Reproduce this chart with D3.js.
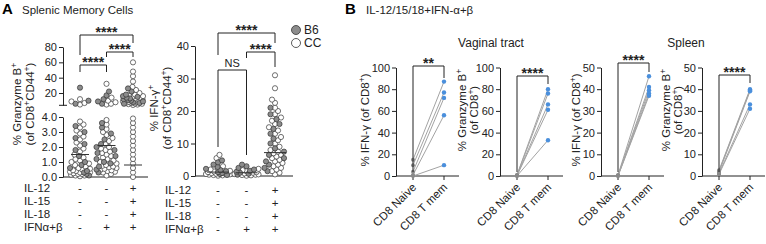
<!DOCTYPE html>
<html>
<head>
<meta charset="utf-8">
<script src="https://cdn.jsdelivr.net/npm/d3@7"></script>
<style>
  body { margin: 0; background: #fff; }
  svg { font-family: "Liberation Sans", Arial, sans-serif; }
</style>
</head>
<body>
<svg id="fig" width="766" height="244"></svg>
<script>
// ---------- Panel A data ----------
const conditions = ['unstim', 'ifn', 'combo'];
const rowLabels = ['IL-12', 'IL-15', 'IL-18', 'IFNα+β'];
const rowSigns = [['-', '-', '+'], ['-', '-', '+'], ['-', '-', '+'], ['-', '+', '+']];
const strains = ['B6', 'CC'];

// % Granzyme B+ (of CD8+CD44+)
const gzbCC = [
  [0.05, 0.1, 0.1, 0.15, 0.2, 0.2, 0.25, 0.3, 0.3, 0.35, 0.4, 0.45, 0.5, 0.55, 0.6, 0.7, 0.8, 0.9, 1.0, 1.1, 1.2, 1.3, 1.5, 1.7, 1.9, 2.1, 2.3, 2.5, 2.7, 2.9, 3.1, 3.3, 3.5, 3.7, 5, 7, 9, 12],
  [0.1, 0.2, 0.3, 0.35, 0.4, 0.45, 0.5, 0.55, 0.6, 0.65, 0.7, 0.75, 0.8, 0.9, 1.0, 1.1, 1.2, 1.3, 1.4, 1.5, 1.6, 1.7, 1.8, 1.9, 2.0, 2.2, 2.4, 2.6, 2.8, 3.0, 3.2, 3.5, 3.8, 5, 6, 8, 10, 14, 32],
  [0.0, 0.3, 0.6, 0.9, 1.2, 1.5, 1.8, 2.1, 2.4, 2.7, 3.0, 3.3, 3.6, 3.9, 4.5, 5, 5.5, 6, 6.5, 7, 7.5, 8, 8.5, 9, 9.5, 10, 10.5, 11, 11.5, 12, 13, 14, 15, 16, 17, 18, 20, 24, 28, 35, 42, 48, 60]
];
const gzbB6 = [
  [0.1, 0.2, 0.3, 0.4, 0.6, 0.8, 1.0, 1.4, 1.8, 2.2, 2.6, 3.0, 3.4, 6, 10, 27],
  [0.3, 0.5, 0.7, 0.9, 1.0, 1.2, 1.4, 1.6, 1.8, 2.0, 2.2, 2.5, 2.9, 3.3, 3.6, 6, 9, 12, 17, 22],
  [6, 7, 8, 9, 10, 11, 12, 13, 14, 15, 16, 18, 22, 26]
];
const gzbMeans = [1.5, 2.1, 0.8];
const gzbLowTicks = [0, 1, 2, 3, 4];
const gzbHighTicks = [20, 40, 60, 80];

// % IFN-γ+ (of CD8+CD44+)
const ifngCC = [
  [0.1, 0.2, 0.3, 0.4, 0.5, 0.6, 0.7, 0.8, 0.9, 1.0, 1.2, 1.4, 1.6, 2.0, 3.0, 5.5, 6.5],
  [0.1, 0.2, 0.3, 0.4, 0.5, 0.6, 0.8, 1.0, 1.2, 1.5, 1.8, 2.2],
  [0.5, 1, 1.5, 2, 2.5, 3, 3.5, 4, 4.5, 5, 5.5, 6, 6.5, 7, 7.5, 8, 9, 10, 11, 12, 13, 14, 15, 16, 17, 18, 19, 20, 21, 22.5, 23.5, 27, 31]
];
const ifngB6 = [
  [0.3, 0.6, 0.9, 1.2, 1.5, 1.8, 2.2, 2.8, 3.5, 4.2, 4.8],
  [0.4, 0.7, 1.0, 1.3, 1.6, 2.0, 2.5, 3.0, 3.5],
  [1.5, 2.5, 3.5, 4.5, 5.5, 6.5, 7.5, 8.5, 10, 11.5, 13, 14.5, 16, 17.5, 19, 21]
];
const ifngMeans = [1.2, 1.0, 7.2];
const ifngTicks = [0, 10, 20, 30, 40];

const gzbSig = [[0, 2, '****'], [1, 2, '****'], [0, 1, '****']];
const ifngSig = [[0, 2, '****'], [1, 2, '****'], [0, 1, 'NS']];

// ---------- Panel B data ----------
const bGroups = ['CD8 Naive', 'CD8 T mem'];
const vagIfngNaive = [15, 10, 4, 1, 0];
const vagIfngMem = [87, 77, 72, 56, 10];
const vagGzbNaive = [1.0, 0.8, 0.5, 0.3, 0.1];
const vagGzbMem = [80, 76, 66, 61, 33];
const splIfngNaive = [0.4, 0.3, 0.2, 0.1, 0];
const splIfngMem = [46, 41, 39.5, 38, 37];
const splGzbNaive = [2.6, 2.2, 1.8, 1.2, 0.8];
const splGzbMem = [40, 39.5, 39, 33, 31];
const bSig = ['**', '****', '****', '****'];
const tissues = ['Vaginal tract', 'Spleen'];

// ---------- helpers ----------
const svg = d3.select('#fig');
const defs = svg.append('defs');
const ink = '#222';

function rich(sel, str) {
  // "^x" marks a superscript character
  let reset = false;
  str.split(/(\^.)/).forEach(p => {
    if (!p) return;
    if (p[0] === '^') {
      sel.append('tspan').attr('dy', -4).attr('font-size', 8.5).text(p[1]);
      reset = true;
    } else {
      const t = sel.append('tspan').text(p);
      if (reset) { t.attr('dy', 4); reset = false; }
    }
  });
}

function yTitle(lines, xs, cy) {
  lines.forEach((t, i) => {
    const txt = svg.append('text')
      .attr('transform', `translate(${xs[i]},${cy}) rotate(-90)`)
      .attr('text-anchor', 'middle')
      .attr('font-size', 11.5)
      .attr('fill', ink);
    rich(txt, t);
  });
}

function styleAxis(g) {
  g.selectAll('path,line').attr('stroke', ink).attr('stroke-width', 1);
  g.selectAll('text').attr('fill', ink).attr('font-size', 11).attr('font-family', '"Liberation Sans", Arial, sans-serif');
}

function bracket(x1, x2, y, yl, yr, label, fs) {
  svg.append('path')
    .attr('d', `M${x1},${yl}V${y}H${x2}V${yr}`)
    .attr('fill', 'none').attr('stroke', ink).attr('stroke-width', 1);
  const star = label.startsWith('*');
  svg.append('text')
    .attr('x', (x1 + x2) / 2).attr('y', star ? y + 2 : y - 3)
    .attr('text-anchor', 'middle')
    .attr('font-size', star ? fs : 11)
    .attr('font-weight', star ? 'bold' : 'normal')
    .attr('fill', ink)
    .text(label);
}

// greedy beeswarm with a width limit (overlaps once the limit is reached)
function swarm(pts, maxHalf, diam) {
  const placed = [];
  pts.slice().sort((a, b) => b.py - a.py).forEach((p, i) => {
    let best = 0, bestD = -1, done = false;
    for (let s = 0; s <= maxHalf && !done; s += 0.5) {
      const cands = s === 0 ? [0] : (i % 2 ? [s, -s] : [-s, s]);
      for (const dx of cands) {
        let m = Infinity;
        for (const q of placed) {
          const d = Math.hypot(dx - q.dx, p.py - q.py);
          if (d < m) m = d;
        }
        if (m >= diam) { best = dx; done = true; break; }
        if (m > bestD) { bestD = m; best = dx; }
      }
    }
    p.dx = best;
    placed.push(p);
  });
  return pts;
}

function dotColumn(cc, b6, yfn, cx, maxHalf) {
  const pts = cc.map(v => ({ py: yfn(v), fill: '#fff' }))
    .concat(b6.map(v => ({ py: yfn(v), fill: '#8c8c8c' })));
  swarm(pts, maxHalf, 4.4);
  svg.append('g').selectAll('circle').data(pts).join('circle')
    .attr('cx', d => cx + d.dx).attr('cy', d => d.py).attr('r', 2.6)
    .attr('fill', d => d.fill).attr('stroke', '#333').attr('stroke-width', 0.7);
}

function rows(x, xCol, y0) {
  rowLabels.forEach((lab, r) => {
    const yy = y0 + r * 13;
    svg.append('text').attr('x', x).attr('y', yy).attr('font-size', 11.5).attr('fill', ink).text(lab);
    rowSigns[r].forEach((s, c) => {
      svg.append('text').attr('x', xCol(conditions[c])).attr('y', yy)
        .attr('text-anchor', 'middle').attr('font-size', 11.5).attr('fill', ink).text(s);
    });
  });
}

// ---------- titles ----------
svg.append('text').attr('x', 2).attr('y', 14).attr('font-size', 15).attr('font-weight', 'bold').text('A');
svg.append('text').attr('x', 22).attr('y', 14).attr('font-size', 11.5).attr('fill', ink).text('Splenic Memory Cells');
svg.append('text').attr('x', 345).attr('y', 14).attr('font-size', 15).attr('font-weight', 'bold').text('B');
svg.append('text').attr('x', 366).attr('y', 14).attr('font-size', 11.5).attr('fill', ink).text('IL-12/15/18+IFN-α+β');

// ---------- A1: Granzyme B (split axis) ----------
const a1x0 = 63;
const xA1 = d3.scalePoint(conditions, [80, 133]);
const yLow = d3.scaleLinear([0, 4], [177, 117]);
const yHigh = d3.scaleLinear([4, 80], [105.3, 47]);
const yA1 = v => (v <= 4 ? yLow(v) : yHigh(v));

svg.append('g').attr('transform', `translate(${a1x0},0)`)
  .call(d3.axisLeft(yLow).tickValues(gzbLowTicks).tickSize(4).tickPadding(2).tickSizeOuter(0)).call(styleAxis);
svg.append('g').attr('transform', `translate(${a1x0},0)`)
  .call(d3.axisLeft(yHigh).tickValues(gzbHighTicks).tickSize(4).tickPadding(2).tickSizeOuter(0)).call(styleAxis);
svg.append('line').attr('x1', a1x0 - 4).attr('x2', a1x0 + 4).attr('y1', yHigh(4)).attr('y2', yHigh(4)).attr('stroke', ink);
svg.append('line').attr('x1', a1x0).attr('x2', 148).attr('y1', 177).attr('y2', 177).attr('stroke', ink);

conditions.forEach((c, i) => dotColumn(gzbCC[i], gzbB6[i], yA1, xA1(c), 10));
gzbMeans.forEach((m, i) => {
  svg.append('line').attr('x1', xA1(conditions[i]) - 9).attr('x2', xA1(conditions[i]) + 9)
    .attr('y1', yA1(m)).attr('y2', yA1(m)).attr('stroke', '#333').attr('stroke-width', 1);
});
const a1Br = [[35, 55, 43], [52, 57, 57], [65, 72, 72]];
gzbSig.forEach(([a, b, t], i) => bracket(xA1(conditions[a]), xA1(conditions[b]), a1Br[i][0], a1Br[i][1], a1Br[i][2], t, 14));
yTitle(['% Granzyme B^+', '(of CD8^+CD44^+)'], [21, 34], 104);
rows(24, xA1, 192);

// ---------- A2: IFN-γ ----------
const a2x0 = 195;
const xA2 = d3.scalePoint(conditions, [218, 275]);
const yA2 = d3.scaleLinear([0, 40], [176, 46]);
svg.append('g').attr('transform', `translate(${a2x0},0)`)
  .call(d3.axisLeft(yA2).tickValues(ifngTicks).tickSize(4).tickPadding(2).tickSizeOuter(0)).call(styleAxis);
svg.append('line').attr('x1', a2x0).attr('x2', 293).attr('y1', 176).attr('y2', 176).attr('stroke', ink);
conditions.forEach((c, i) => dotColumn(ifngCC[i], ifngB6[i], yA2, xA2(c), 12));
ifngMeans.forEach((m, i) => {
  svg.append('line').attr('x1', xA2(conditions[i]) - 11).attr('x2', xA2(conditions[i]) + 11)
    .attr('y1', yA2(m)).attr('y2', yA2(m)).attr('stroke', '#333').attr('stroke-width', 1);
});
const a2Br = [[33, 55, 43], [52, 58, 67], [70, 147, 155]];
ifngSig.forEach(([a, b, t], i) => bracket(xA2(conditions[a]), xA2(conditions[b]), a2Br[i][0], a2Br[i][1], a2Br[i][2], t, 14));
yTitle(['% IFN-γ^+', '(of CD8^+CD44^+)'], [158, 171], 108);
rows(165, xA2, 194);

// legend
strains.forEach((s, i) => {
  svg.append('circle').attr('cx', 296).attr('cy', 30 + i * 13).attr('r', 4.5)
    .attr('fill', s === 'B6' ? '#8c8c8c' : '#fff').attr('stroke', '#333').attr('stroke-width', 0.8);
  svg.append('text').attr('x', 304).attr('y', 34 + i * 13).attr('font-size', 12).attr('fill', ink).text(s);
});

// ---------- Panel B ----------
const bPanels = [
  { naive: vagIfngNaive, mem: vagIfngMem, max: 100, step: 20, x0: 396, titles: ['% IFN-γ (of CD8^+)'], tx: [369], ty: 120 },
  { naive: vagGzbNaive, mem: vagGzbMem, max: 100, step: 20, x0: 500, titles: ['% Granzyme B^+', '(of CD8^+)'], tx: [466, 478], ty: 110 },
  { naive: splIfngNaive, mem: splIfngMem, max: 50, step: 10, x0: 601, titles: ['% IFN-γ (of CD8^+)'], tx: [580], ty: 120 },
  { naive: splGzbNaive, mem: splGzbMem, max: 50, step: 10, x0: 702, titles: ['% Granzyme B^+', '(of CD8^+)'], tx: [670, 682], ty: 110 }
];
const bBr = [[66, 78], [76, 84], [63, 72], [75, 83]];

bPanels.forEach((p, k) => {
  const x = d3.scalePoint(bGroups, [p.x0 + 17, p.x0 + 48]);
  const y = d3.scaleLinear([0, p.max], [176, 67.5]);
  svg.append('g').attr('transform', `translate(${p.x0},0)`)
    .call(d3.axisLeft(y).tickValues(d3.range(0, p.max + 1, p.step)).tickSize(4).tickPadding(2).tickSizeOuter(0))
    .call(styleAxis);
  svg.append('line').attr('x1', p.x0).attr('x2', p.x0 + 63).attr('y1', 176).attr('y2', 176).attr('stroke', ink);
  bGroups.forEach((gname, j) => {
    const gx = x(gname) + 4, gy = 188;
    svg.append('line').attr('x1', x(gname)).attr('x2', x(gname)).attr('y1', 176).attr('y2', 180).attr('stroke', ink);
    // slanted label drawn along a 45° path ending under the tick
    const pid = `lab${k}_${j}`;
    defs.append('path').attr('id', pid).attr('d', `M${gx - 60},${gy + 60}L${gx},${gy}`);
    svg.append('text').attr('font-size', 11.5).attr('fill', ink)
      .append('textPath').attr('href', `#${pid}`)
      .attr('startOffset', '100%').attr('text-anchor', 'end')
      .text(gname);
  });

  const pairs = p.naive.map((v, i) => [v, p.mem[i]]);
  svg.append('g').selectAll('line').data(pairs).join('line')
    .attr('x1', x(bGroups[0])).attr('x2', x(bGroups[1]))
    .attr('y1', d => y(d[0])).attr('y2', d => y(d[1]))
    .attr('stroke', '#a3a3a3').attr('stroke-width', 1);
  svg.append('g').selectAll('circle').data(p.naive).join('circle')
    .attr('cx', x(bGroups[0])).attr('cy', d => y(d)).attr('r', 2).attr('fill', '#8a8a8a');
  svg.append('g').selectAll('circle').data(p.mem).join('circle')
    .attr('cx', x(bGroups[1])).attr('cy', d => y(d)).attr('r', 2.2).attr('fill', '#4a8fdc');

  bracket(x(bGroups[0]), x(bGroups[1]), bBr[k][0], 172, bBr[k][1], bSig[k], 14);
  yTitle(p.titles, p.tx, p.ty);
});

svg.append('text').attr('x', 491).attr('y', 47).attr('text-anchor', 'middle').attr('font-size', 12).attr('fill', ink).text(tissues[0]);
svg.append('text').attr('x', 686).attr('y', 47).attr('text-anchor', 'middle').attr('font-size', 12).attr('fill', ink).text(tissues[1]);
</script>
</body>
</html>
